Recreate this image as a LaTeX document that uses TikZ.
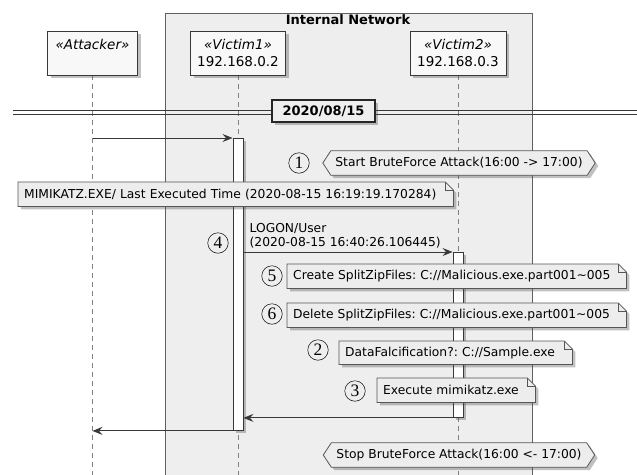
\documentclass[tikz,border=0pt]{standalone}
\usepackage{fontspec}
\setmainfont{DejaVu Sans}
\newfontfamily\numfont{Liberation Serif}
\usetikzlibrary{arrows.meta,shadows,calc}
\pgfdeclarelayer{groundlayer}
\pgfdeclarelayer{barlayer}
\pgfdeclarelayer{notelayer}
\pgfsetlayers{groundlayer,barlayer,notelayer,main}
\frenchspacing

\definecolor{groupfill}{HTML}{EEEEEE}
\definecolor{edge}{HTML}{383838}
\definecolor{lifegray}{HTML}{808080}
\definecolor{partfill}{HTML}{F8F8F8}
\definecolor{notefill}{HTML}{EDEDED}

\tikzset{
  softshadow/.style={drop shadow={shadow xshift=3pt, shadow yshift=-3pt, opacity=0.35, fill=black!70}},
  participant/.style={draw=edge, line width=0.9pt, fill=partfill, minimum height=44pt,
    align=center, inner sep=0pt, font=\fontsize{13.5}{17.5}\selectfont, softshadow},
  groupbox/.style={draw=edge!80, line width=0.8pt, fill=groupfill},
  lifeline/.style={draw=lifegray, line width=0.8pt, dash pattern=on 5pt off 4pt},
  actbar/.style={draw=edge, line width=0.9pt, fill=white, minimum width=10pt, inner sep=0pt, softshadow},
  msg/.style={draw=edge, line width=0.9pt, -{Stealth[length=10pt,width=8pt,inset=3.5pt]}},
  notetext/.style={anchor=north west, inner xsep=6pt, inner ysep=0pt, align=left,
    font=\fontsize{12.3}{14.5}\selectfont},
  noteframe/.style={draw=edge!85, line width=0.8pt, fill=notefill, softshadow},
  hextext/.style={inner sep=0pt, minimum height=24pt, font=\fontsize{12.3}{14.5}\selectfont},
  hexframe/.style={draw=edge!85, line width=0.8pt, fill=notefill, softshadow},
  stepno/.style={circle, draw=black, line width=0.5pt, minimum size=20.5pt, inner sep=0pt,
    font=\numfont\fontsize{17.5}{17.5}\selectfont},
  divlabel/.style={draw=black!85, line width=1.6pt, fill=groupfill, minimum width=103pt,
    minimum height=22pt, inner sep=0pt, font=\bfseries\fontsize{13}{15}\selectfont, softshadow},
  divline/.style={draw=edge, line width=0.9pt},
  msglabel/.style={inner sep=0pt, align=left, font=\fontsize{12.3}{14}\selectfont},
}

% note with a folded top-right corner: name, x, y, text width, height, text
\newcommand\plantnote[6]{%
  \node[notetext, text width=#4, minimum height=#5] (#1) at (#2,#3) {#6};
  \begin{pgfonlayer}{notelayer}
    \path[noteframe] (#1.north west) -- ([xshift=-8pt]#1.north east)
      -- ([yshift=-8pt]#1.north east) -- (#1.south east) -- (#1.south west) -- cycle;
    \draw[draw=edge!85, line width=0.8pt] ([xshift=-8pt]#1.north east) |- ([yshift=-8pt]#1.north east);
  \end{pgfonlayer}}

% hexagonal reference box: name, cx, cy, width, text
\newcommand\planthex[5]{%
  \node[hextext, minimum width=#4] (#1) at (#2,#3) {#5};
  \begin{pgfonlayer}{notelayer}
    \path[hexframe] (#1.west) -- ([xshift=8pt]#1.north west) -- ([xshift=-8pt]#1.north east)
      -- (#1.east) -- ([xshift=-8pt]#1.south east) -- ([xshift=8pt]#1.south west) -- cycle;
  \end{pgfonlayer}}

\begin{document}
\begin{tikzpicture}[x=1pt,y=-1pt]
\useasboundingbox (0,0) rectangle (637,474);

% group of internal hosts
\begin{pgfonlayer}{groundlayer}
  \path[groupbox] (165,13) rectangle (532,490);
\end{pgfonlayer}
\node[font=\bfseries\fontsize{13}{15}\selectfont] (grouptitle) at (348,19.5) {Internal Network};

% participants
\node[participant, minimum width=90pt] (atk) at (92.5,53) {\textit{«Attacker»}\\\mbox{}};
\node[participant, minimum width=95pt] (vic1) at (238,53) {\textit{«Victim1»}\\192.168.0.2};
\node[participant, minimum width=96pt] (vic2) at (458,53) {\textit{«Victim2»}\\192.168.0.3};

% lifelines
\coordinate (bottom) at (0,480);
\begin{pgfonlayer}{groundlayer}
  \draw[lifeline] (atk.south) -- (atk.south |- bottom);
  \draw[lifeline] (vic1.south) -- (vic1.south |- bottom);
  \draw[lifeline] (vic2.south) -- (vic2.south |- bottom);
\end{pgfonlayer}

% date divider
\coordinate (divL) at (13,110.5);
\coordinate (divR) at (640,110.5);
\draw[divline] (divL) -- (divR);
\draw[divline] ([yshift=-3.5pt]divL) -- ([yshift=-3.5pt]divR);
\node[divlabel] (date) at (323.5,111) {2020/08/15};

% activation bars
\begin{pgfonlayer}{barlayer}
  \node[actbar, minimum height=292pt, anchor=north] (act1) at (238,138) {};
  \node[actbar, minimum height=165pt, anchor=north] (act2) at (458,252) {};
\end{pgfonlayer}

% messages
\draw[msg] (atk.south |- act1.north) -- (act1.north west);
\draw[msg] (act1.east |- act2.north) -- (act2.north west);
\node[msglabel, anchor=south west] (logon) at ([xshift=6pt, yshift=4pt]act1.east |- act2.north)
  {LOGON/User\\(2020-08-15 16:40:26.106445)};
\draw[msg] (act2.south west) -- (act1.east |- act2.south);
\draw[msg] (act1.south west) -- (atk.south |- act1.south);

% reference boxes
\planthex{startbf}{459}{163}{272pt}{Start BruteForce Attack(16:00 -> 17:00)}
\planthex{stopbf}{459}{455}{271pt}{Stop BruteForce Attack(16:00 <- 17:00)}

% notes
\plantnote{mimi}{18}{182}{423pt}{24pt}{MIMIKATZ.EXE/ Last Executed Time (2020-08-15 16:19:19.170284)}
\plantnote{create}{287}{264}{327pt}{24pt}{Create SplitZipFiles: C://Malicious.exe.part001\textasciitilde005}
\plantnote{delete}{287}{303}{327pt}{24pt}{Delete SplitZipFiles: C://Malicious.exe.part001\textasciitilde005}
\plantnote{falc}{339}{341}{221pt}{23pt}{DataFalcification?: C://Sample.exe}
\plantnote{exec}{377}{378}{146pt}{24pt}{Execute mimikatz.exe}

% step numbers
\node[stepno] (s1) at (299,163) {1};
\node[stepno] (s4) at (218,243) {4};
\node[stepno] (s5) at (272,276) {5};
\node[stepno] (s6) at (272,314) {6};
\node[stepno] (s2) at (318,350) {2};
\node[stepno] (s3) at (355,391) {3};
\end{tikzpicture}
\end{document}
